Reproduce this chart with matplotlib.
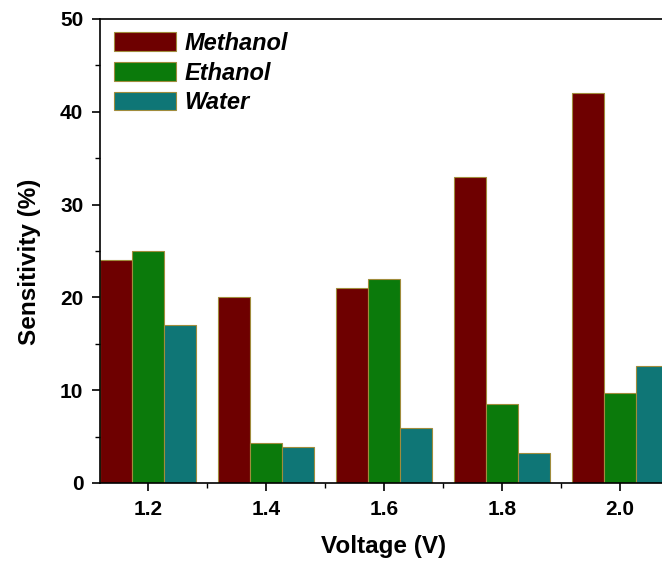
import matplotlib
matplotlib.use("Agg")
import matplotlib.pyplot as plt
from matplotlib.ticker import MultipleLocator
import numpy as np

plt.rcParams['font.family'] = ['Liberation Sans', 'DejaVu Sans']

voltages = [1.2, 1.4, 1.6, 1.8, 2.0]
methanol = [24.0, 20.0, 21.0, 33.0, 42.0]
ethanol = [25.0, 4.3, 22.0, 8.5, 9.7]
water = [17.0, 3.9, 5.9, 3.2, 12.6]
series_names = ["Methanol", "Ethanol", "Water"]
colors = ["#6e0000", "#0b7a0b", "#0f7676"]
edge = "#a08c3c"

fig = plt.figure(figsize=(6.62, 5.65), dpi=100)
ax = fig.add_axes([100/662, 1-483/565, 568/662, 464/565])

w = 0.0542
x = np.array(voltages)
for i, (vals, name, c) in enumerate(zip([methanol, ethanol, water], series_names, colors)):
    ax.bar(x + (i - 1) * w, vals, width=w, color=c, edgecolor=edge, linewidth=0.8, label=name)

ax.set_xlim(1.2 - 1.5 * w, 2.0 + 1.5 * w)
ax.set_ylim(0, 50)
ax.xaxis.set_major_locator(MultipleLocator(0.2))
ax.xaxis.set_minor_locator(MultipleLocator(0.1))
ax.yaxis.set_major_locator(MultipleLocator(10))
ax.yaxis.set_minor_locator(MultipleLocator(5))
ax.set_xticks(voltages)
ax.set_xticklabels([f"{v:.1f}" for v in voltages])
ax.tick_params(which='major', direction='out', length=6, width=1.2, labelsize=15, pad=6)
ax.tick_params(which='minor', direction='out', length=3.5, width=1.0)
for lab in ax.get_xticklabels() + ax.get_yticklabels():
    lab.set_fontweight('bold')
for s in ax.spines.values():
    s.set_linewidth(1.2)

ax.set_xlabel("Voltage (V)", fontsize=17.5, fontweight='bold', labelpad=12)
ax.set_ylabel("Sensitivity (%)", fontsize=17.5, fontweight='bold', labelpad=12)
ax.yaxis.set_label_coords(-0.104, 0.476)

leg = ax.legend(loc='upper left', bbox_to_anchor=(14/568, 1 - 13/464), frameon=False,
                prop={'size': 17, 'weight': 'bold', 'style': 'italic'},
                handlelength=2.63, handleheight=0.85, handletextpad=0.34,
                labelspacing=0.28, borderpad=0, borderaxespad=0)

fig.savefig("out.png", dpi=100)
